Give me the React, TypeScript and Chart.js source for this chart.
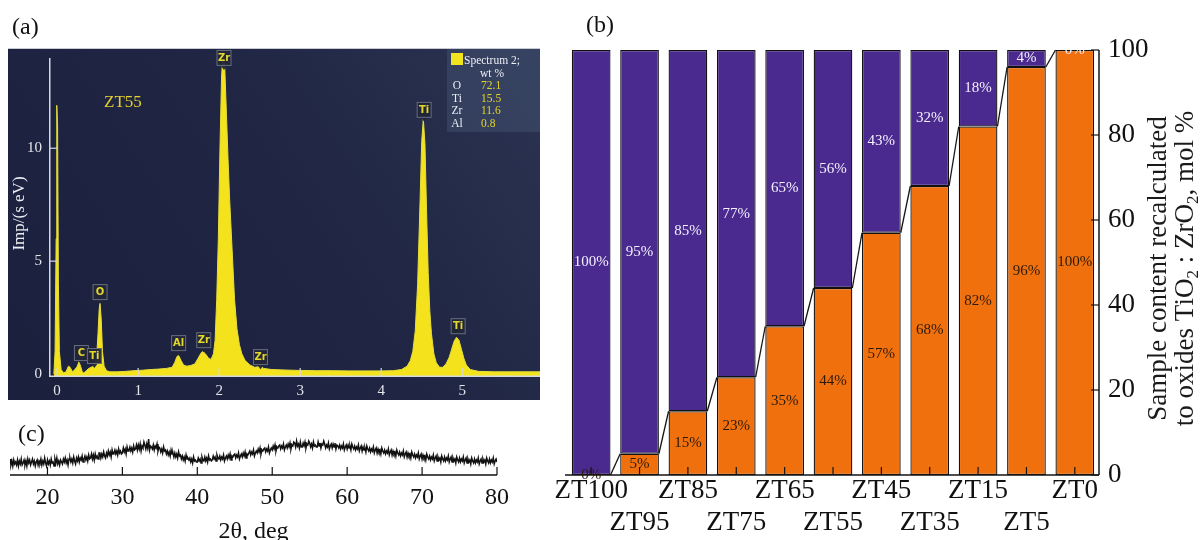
import React, { useEffect, useRef } from 'react';
import { Chart, registerables } from 'chart.js';

Chart.register(...registerables);

const SERIF = "'Liberation Serif', 'Times New Roman', serif";

// ---------------- Panel (a): EDS spectrum ----------------
const edsEnergyKeV = [
  -0.04, -0.025, -0.012, -0.004, 0.006, 0.016, 0.028, 0.05, 0.08, 0.11,
  0.14, 0.16, 0.19, 0.22, 0.25, 0.27, 0.29, 0.31, 0.33, 0.36,
  0.39, 0.42, 0.45, 0.47, 0.49, 0.505, 0.52, 0.53, 0.545, 0.56,
  0.58, 0.61, 0.65, 0.7, 0.75, 0.85, 0.95, 1.05, 1.15, 1.25,
  1.35, 1.42, 1.45, 1.48, 1.5, 1.53, 1.56, 1.6, 1.65, 1.7,
  1.74, 1.78, 1.8, 1.83, 1.87, 1.9, 1.93, 1.95, 1.97, 1.99,
  2.01, 2.03, 2.05, 2.07, 2.09, 2.11, 2.13, 2.16, 2.19, 2.22,
  2.25, 2.28, 2.32, 2.38, 2.44, 2.48, 2.51, 2.55, 2.65, 2.8,
  3.0, 3.2, 3.4, 3.6, 3.8, 4.0, 4.15, 4.25, 4.32, 4.36,
  4.39, 4.42, 4.45, 4.48, 4.5, 4.52, 4.54, 4.56, 4.58, 4.6,
  4.62, 4.65, 4.68, 4.72, 4.76, 4.8, 4.84, 4.87, 4.9, 4.93,
  4.96, 4.99, 5.02, 5.05, 5.1, 5.2, 5.4, 5.6, 5.8, 5.96,
];
const edsCounts = [
  0, 1, 6, 11.9, 11, 4, 1, 0.2, 0.05, 0.1,
  0.35, 0.3, 0.1, 0.2, 0.35, 0.55, 0.35, 0.1, 0.05, 0.15,
  0.25, 0.3, 0.35, 0.5, 0.9, 1.8, 2.9, 3.15, 2.4, 1.0,
  0.35, 0.15, 0.1, 0.1, 0.1, 0.12, 0.15, 0.17, 0.2, 0.22,
  0.25, 0.3, 0.5, 0.78, 0.82, 0.6, 0.4, 0.35, 0.38, 0.45,
  0.7, 0.95, 1.0, 0.9, 0.7, 0.65, 0.9, 1.5, 3.3, 6.0,
  10.0, 13.2, 14.3, 13.5, 11.5, 9.5, 7.7, 5.5, 3.3, 2.0,
  1.3, 0.9, 0.6, 0.4, 0.3, 0.32, 0.35, 0.25, 0.2, 0.18,
  0.16, 0.15, 0.15, 0.14, 0.14, 0.14, 0.15, 0.2, 0.35, 0.6,
  1.0, 1.9, 4.0, 7.7, 10.3, 11.3, 10.2, 7.2, 4.5, 2.8,
  1.8, 0.9, 0.5, 0.3, 0.3, 0.45, 0.75, 1.1, 1.45, 1.63,
  1.5, 1.1, 0.7, 0.4, 0.2, 0.12, 0.1, 0.1, 0.1, 0.1,
];
const edsXTicks = [0, 1, 2, 3, 4, 5];
const edsYTicks = [0, 5, 10];
const edsYAxisTop = 14.0;
const edsPeakLabels = ['C', 'Ti', 'O', 'Al', 'Zr', 'Zr', 'Zr', 'Ti', 'Ti'];
const edsPeakEnergy = [0.3, 0.46, 0.53, 1.5, 1.81, 2.06, 2.51, 4.53, 4.95];
const edsPeakValue = [0.93, 0.8, 3.63, 1.37, 1.5, 14.0, 0.75, 11.7, 2.12];
const edsSampleName = 'ZT55';
const edsLegendTitle = 'Spectrum 2;';
const edsLegendUnit = 'wt %';
const edsElements = ['O', 'Ti', 'Zr', 'Al'];
const edsWtPct = ['72.1', '15.5', '11.6', '0.8'];

// ---------------- Panel (b): stacked composition bars ----------------
const samples = ['ZT100', 'ZT95', 'ZT85', 'ZT75', 'ZT65', 'ZT55', 'ZT45', 'ZT35', 'ZT15', 'ZT5', 'ZT0'];
const tio2MolPct = [0, 5, 15, 23, 35, 44, 57, 68, 82, 96, 100];
const zro2MolPct = [100, 95, 85, 77, 65, 56, 43, 32, 18, 4, 0];
const barYTicks = [0, 20, 40, 60, 80, 100];
const barTitleLine1: [string, boolean][] = [['Sample content recalculated', false]];
const barTitleLine2: [string, boolean][] = [
  ['to oxides TiO', false], ['2', true], [' : ZrO', false], ['2', true], [', mol %', false],
];

// ---------------- Panel (c): XRD pattern ----------------
const xrdStartDeg = 15;
const xrdStepDeg = 0.125;
const xrdIntensity = [
  16, 10, 14, 9, 15, 11, 13, 10, 15, 9, 14, 11, 16, 10, 12, 15,
  10, 14, 9, 16, 12, 15, 10, 13, 16, 11, 14, 9, 13, 15, 10, 14,
  12, 16, 10, 14, 11, 17, 12, 9, 15, 11, 14, 10, 16, 12, 13, 9,
  16, 12, 17, 11, 14, 10, 15, 13, 11, 16, 13, 17, 12, 15, 10, 16,
  17, 13, 16, 12, 18, 14, 11, 17, 14, 18, 13, 17, 15, 19, 13, 16,
  19, 15, 18, 14, 20, 16, 17, 21, 16, 20, 15, 21, 17, 19, 16, 22,
  22, 17, 21, 18, 23, 19, 17, 22, 19, 24, 20, 23, 18, 25, 21, 22,
  25, 21, 24, 20, 26, 22, 24, 21, 22, 27, 23, 26, 21, 28, 24, 25,
  28, 24, 27, 23, 29, 25, 26, 30, 25, 30, 26, 31, 24, 29, 27, 33,
  30, 26, 31, 27, 36, 25, 29, 28, 26, 30, 25, 29, 27, 31, 24, 28,
  27, 23, 26, 22, 28, 24, 25, 21, 24, 20, 23, 19, 25, 21, 22, 18,
  22, 18, 21, 17, 23, 19, 20, 16, 19, 15, 18, 14, 20, 16, 17, 15,
  17, 13, 16, 12, 18, 14, 15, 13, 13, 17, 14, 16, 12, 18, 15, 14,
  18, 14, 17, 13, 19, 15, 16, 14, 15, 19, 16, 18, 14, 20, 17, 16,
  19, 15, 18, 16, 20, 14, 17, 19, 16, 20, 17, 21, 15, 19, 18, 20,
  21, 17, 20, 18, 22, 16, 19, 21, 18, 22, 19, 23, 17, 21, 20, 22,
  24, 20, 23, 21, 25, 19, 22, 24, 22, 26, 23, 27, 21, 25, 24, 26,
  27, 23, 26, 24, 28, 22, 25, 27, 25, 29, 26, 30, 24, 28, 27, 29,
  30, 26, 29, 27, 31, 25, 28, 30, 27, 31, 28, 32, 26, 30, 29, 33,
  32, 28, 34, 29, 31, 27, 33, 28, 28, 32, 29, 33, 27, 31, 30, 34,
  32, 28, 31, 27, 33, 29, 30, 28, 28, 33, 29, 32, 27, 31, 30, 34,
  31, 27, 30, 28, 32, 26, 29, 31, 27, 31, 28, 32, 26, 30, 29, 27,
  30, 26, 29, 27, 31, 25, 28, 30, 26, 30, 27, 29, 25, 31, 28, 26,
  29, 25, 28, 26, 30, 24, 27, 29, 24, 28, 25, 27, 23, 29, 26, 24,
  27, 23, 26, 24, 28, 22, 25, 27, 22, 26, 23, 25, 21, 27, 24, 22,
  25, 21, 24, 22, 26, 20, 23, 25, 20, 24, 21, 23, 19, 25, 22, 20,
  23, 19, 22, 20, 24, 18, 21, 23, 18, 22, 19, 21, 17, 23, 20, 18,
  21, 17, 20, 18, 22, 16, 19, 21, 16, 20, 17, 19, 15, 21, 18, 16,
  19, 15, 18, 16, 20, 14, 17, 19, 14, 18, 15, 17, 13, 19, 16, 14,
  18, 14, 17, 15, 19, 13, 16, 18, 13, 17, 14, 16, 12, 18, 15, 13,
  17, 13, 16, 14, 18, 12, 15, 17, 12, 16, 13, 15, 11, 17, 14, 12,
  16, 12, 15, 13, 17, 11, 14, 16, 12, 16, 13, 15, 11, 17, 14, 12,
  16, 12, 15, 13, 17, 11, 14, 16, 13,
];
const xrdTicks = [20, 30, 40, 50, 60, 70, 80];
const xrdAxisTitle = '2\u03b8, deg';

// ---------------- helpers ----------------
function ChartCanvas(props: { left: number; top: number; width: number; height: number; build: () => any }) {
  const ref = useRef<HTMLCanvasElement | null>(null);
  useEffect(() => {
    if (!ref.current) return;
    const chart = new Chart(ref.current, props.build());
    return () => chart.destroy();
  }, []);
  return (
    <canvas
      ref={ref}
      width={props.width}
      height={props.height}
      style={{ position: 'absolute', left: props.left, top: props.top, width: props.width, height: props.height }}
    />
  );
}

// The EDS canvas starts 20px above the dark panel so the axis label padding never pushes the plot down.
const EDS_BG_TOP = 20;

function buildEds() {
  const pts = edsEnergyKeV.map((e, i) => ({ x: e, y: edsCounts[i] }));
  const deco = {
    id: 'edsDeco',
    beforeDraw(chart: any) {
      const { ctx, width, height } = chart;
      ctx.save();
      const g = ctx.createLinearGradient(0, height, width, EDS_BG_TOP);
      g.addColorStop(0, '#1b203d');
      g.addColorStop(0.55, '#1f2543');
      g.addColorStop(1, '#2b3452');
      ctx.fillStyle = g;
      ctx.fillRect(0, EDS_BG_TOP, width, height - EDS_BG_TOP);
      ctx.strokeStyle = '#c9cbd2';
      ctx.lineWidth = 1;
      ctx.beginPath();
      ctx.moveTo(0, EDS_BG_TOP + 0.5);
      ctx.lineTo(width, EDS_BG_TOP + 0.5);
      ctx.stroke();
      ctx.restore();
    },
    afterDatasetsDraw(chart: any) {
      const { ctx, chartArea, scales } = chart;
      const { left, right, bottom } = chartArea;
      const x = scales.x, y = scales.y;
      const T = EDS_BG_TOP;
      ctx.save();
      ctx.strokeStyle = '#d6d8e0';
      ctx.lineWidth = 1.5;
      ctx.beginPath();
      ctx.moveTo(left + 0.75, y.getPixelForValue(edsYAxisTop));
      ctx.lineTo(left + 0.75, bottom);
      ctx.stroke();
      ctx.beginPath();
      ctx.moveTo(left, bottom - 0.75);
      ctx.lineTo(right, bottom - 0.75);
      ctx.stroke();
      ctx.lineWidth = 1.2;
      edsXTicks.forEach((v) => {
        const px = x.getPixelForValue(v);
        ctx.beginPath();
        ctx.moveTo(px, bottom);
        ctx.lineTo(px, bottom - 9);
        ctx.stroke();
      });
      edsYTicks.forEach((v) => {
        if (v === 0) return;
        const py = y.getPixelForValue(v);
        ctx.beginPath();
        ctx.moveTo(left, py);
        ctx.lineTo(left + 8, py);
        ctx.stroke();
      });
      // peak labels
      edsPeakLabels.forEach((t, i) => {
        const cx = x.getPixelForValue(edsPeakEnergy[i]);
        const cy = y.getPixelForValue(edsPeakValue[i]);
        const w = 15, h = 16;
        ctx.fillStyle = 'rgba(34,38,56,0.96)';
        ctx.strokeStyle = 'rgba(110,118,138,0.9)';
        ctx.lineWidth = 1;
        ctx.beginPath();
        ctx.moveTo(cx - 3, cy + h / 2);
        ctx.lineTo(cx, cy + h / 2 + 4);
        ctx.lineTo(cx + 3, cy + h / 2);
        ctx.closePath();
        ctx.fill();
        ctx.fillRect(cx - w / 2, cy - h / 2, w, h);
        ctx.strokeRect(cx - w / 2 + 0.5, cy - h / 2 + 0.5, w - 1, h - 1);
        ctx.fillStyle = '#e4d82c';
        ctx.font = "bold 10px 'DejaVu Sans', sans-serif";
        ctx.textAlign = 'center';
        ctx.textBaseline = 'middle';
        ctx.fillText(t, cx, cy + 0.5);
      });
      // sample name
      ctx.fillStyle = '#e2d12c';
      ctx.font = `17px ${SERIF}`;
      ctx.textAlign = 'left';
      ctx.textBaseline = 'middle';
      ctx.fillText(edsSampleName, 96, T + 55);
      // legend box
      ctx.fillStyle = 'rgba(72,88,120,0.42)';
      ctx.fillRect(439, T + 1, 93, 83);
      ctx.fillStyle = '#f2e41e';
      ctx.fillRect(443, T + 5, 12, 12);
      ctx.font = `11.5px ${SERIF}`;
      ctx.fillStyle = '#eceef4';
      ctx.textAlign = 'left';
      ctx.fillText(edsLegendTitle, 456, T + 13);
      ctx.fillText(edsLegendUnit, 472, T + 25.5);
      edsElements.forEach((el, i) => {
        const ry = T + 38 + i * 12.7;
        ctx.fillStyle = '#eceef4';
        ctx.textAlign = 'center';
        ctx.fillText(el, 449, ry);
        ctx.fillStyle = '#e2d42e';
        ctx.textAlign = 'left';
        ctx.fillText(edsWtPct[i], 473, ry);
      });
      ctx.restore();
    },
  };
  return {
    type: 'line',
    data: {
      datasets: [
        {
          data: pts,
          fill: 'start',
          backgroundColor: '#f3e21c',
          borderColor: '#e6df3a',
          borderWidth: 1,
          pointRadius: 0,
          tension: 0,
        },
      ],
    },
    options: {
      animation: false,
      responsive: false,
      events: [],
      layout: { padding: { top: EDS_BG_TOP + 2, left: 0, right: 0, bottom: 0 } },
      plugins: { legend: { display: false }, tooltip: { enabled: false } },
      scales: {
        x: {
          type: 'linear',
          min: -0.1,
          max: 5.96,
          grid: { display: false, drawTicks: false },
          border: { display: false },
          afterBuildTicks: (s: any) => { s.ticks = edsXTicks.map((v) => ({ value: v })); },
          afterFit: (s: any) => { s.height = 23; },
          ticks: { color: '#e4e5ec', font: { family: SERIF, size: 15 }, padding: 5, maxRotation: 0, autoSkip: false },
        },
        y: {
          type: 'linear',
          min: -0.13,
          max: 14.35,
          grid: { display: false, drawTicks: false },
          border: { display: false },
          afterBuildTicks: (s: any) => { s.ticks = edsYTicks.map((v) => ({ value: v })); },
          afterFit: (s: any) => { s.width = 41; },
          ticks: { color: '#e4e5ec', font: { family: SERIF, size: 15 }, padding: 7 },
          title: { display: true, text: 'Imp/(s eV)', color: '#eceef2', font: { family: SERIF, size: 17 }, padding: { top: 1, bottom: 0 } },
        },
      },
    },
    plugins: [deco],
  };
}

function buildBars() {
  const deco = {
    id: 'barsDeco',
    afterDatasetsDraw(chart: any) {
      const { ctx, chartArea, scales } = chart;
      const { left, right, top, bottom } = chartArea;
      const y = scales.y;
      const mT = chart.getDatasetMeta(0);
      const mZ = chart.getDatasetMeta(1);
      ctx.save();
      // series lines joining orange tops
      ctx.strokeStyle = '#151515';
      ctx.lineWidth = 1.3;
      for (let i = 0; i < mT.data.length - 1; i++) {
        const a = mT.data[i], b = mT.data[i + 1];
        ctx.beginPath();
        ctx.moveTo(a.x + a.width / 2, a.y);
        ctx.lineTo(b.x - b.width / 2, b.y);
        ctx.stroke();
      }
      // axes
      ctx.lineWidth = 1.5;
      ctx.beginPath();
      ctx.moveTo(left - 2, bottom);
      ctx.lineTo(right, bottom);
      ctx.moveTo(right, top);
      ctx.lineTo(right, bottom);
      ctx.stroke();
      ctx.lineWidth = 1.2;
      barYTicks.forEach((v) => {
        const py = y.getPixelForValue(v);
        ctx.beginPath();
        ctx.moveTo(right - 8, py);
        ctx.lineTo(right, py);
        ctx.stroke();
      });
      mT.data.forEach((el: any) => {
        ctx.beginPath();
        ctx.moveTo(el.x, bottom);
        ctx.lineTo(el.x, bottom - 8);
        ctx.stroke();
      });
      // value labels
      ctx.font = `15px ${SERIF}`;
      ctx.textAlign = 'center';
      ctx.textBaseline = 'middle';
      mT.data.forEach((el: any, i: number) => {
        ctx.fillStyle = '#2a1a0c';
        ctx.fillText(`${tio2MolPct[i]}%`, el.x, (el.y + el.base) / 2);
      });
      ctx.save();
      ctx.beginPath();
      ctx.rect(left - 30, top, right - left + 60, bottom - top + 30);
      ctx.clip();
      mZ.data.forEach((el: any, i: number) => {
        ctx.fillStyle = '#f4f0ff';
        ctx.fillText(`${zro2MolPct[i]}%`, el.x, (el.y + el.base) / 2);
      });
      ctx.restore();
      ctx.restore();
    },
    afterDraw(chart: any) {
      const { ctx, chartArea } = chart;
      const size = 27;
      const cy = (chartArea.top + chartArea.bottom) / 2 + 6;
      const drawRich = (parts: [string, boolean][], cx: number) => {
        const subSize = Math.round(size * 0.62);
        let total = 0;
        const widths = parts.map(([t, sub]) => {
          ctx.font = `${sub ? subSize : size}px ${SERIF}`;
          const w = ctx.measureText(t).width;
          total += w;
          return w;
        });
        ctx.save();
        ctx.translate(cx, cy);
        ctx.rotate(-Math.PI / 2);
        ctx.fillStyle = '#1a1a1a';
        ctx.textAlign = 'left';
        ctx.textBaseline = 'middle';
        let pos = -total / 2;
        parts.forEach(([t, sub], i) => {
          ctx.font = `${sub ? subSize : size}px ${SERIF}`;
          ctx.fillText(t, pos, sub ? size * 0.28 : 0);
          pos += widths[i];
        });
        ctx.restore();
      };
      drawRich(barTitleLine1, chartArea.right + 60);
      drawRich(barTitleLine2, chartArea.right + 87);
    },
  };
  return {
    type: 'bar',
    data: {
      labels: samples,
      datasets: [
        {
          label: 'TiO2',
          data: tio2MolPct,
          backgroundColor: '#f0700e',
          borderColor: '#111',
          borderWidth: 1.3,
          borderSkipped: false,
        },
        {
          label: 'ZrO2',
          data: zro2MolPct,
          backgroundColor: '#4a2a8e',
          borderColor: '#111',
          borderWidth: 1.3,
          borderSkipped: false,
        },
      ],
    },
    options: {
      animation: false,
      responsive: false,
      events: [],
      layout: { padding: { top: 26, left: 22, right: 0, bottom: 0 } },
      plugins: { legend: { display: false }, tooltip: { enabled: false } },
      datasets: { bar: { categoryPercentage: 1, barPercentage: 0.8 } },
      scales: {
        x: {
          stacked: true,
          grid: { display: false, drawTicks: false },
          border: { display: false },
          afterFit: (s: any) => { s.height = 65; },
          ticks: {
            autoSkip: false,
            maxRotation: 0,
            padding: 0,
            color: '#111',
            font: { family: SERIF, size: 27, lineHeight: 1.19 },
            callback: (_v: any, i: number) => (i % 2 === 0 ? samples[i] : ['', samples[i]]),
          },
        },
        y: {
          stacked: true,
          position: 'right',
          min: 0,
          max: 100,
          grid: { display: false, drawTicks: false },
          border: { display: false },
          afterBuildTicks: (s: any) => { s.ticks = barYTicks.map((v) => ({ value: v })); },
          afterFit: (s: any) => { s.width = 101; },
          ticks: { color: '#111', font: { family: SERIF, size: 27 }, padding: 9 },
        },
      },
    },
    plugins: [deco],
  };
}

function buildXrd() {
  const pts = xrdIntensity.map((v, i) => ({ x: xrdStartDeg + i * xrdStepDeg, y: v }));
  const deco = {
    id: 'xrdDeco',
    afterDatasetsDraw(chart: any) {
      const { ctx, chartArea, scales } = chart;
      const { left, right, bottom } = chartArea;
      ctx.save();
      ctx.strokeStyle = '#111';
      ctx.lineWidth = 1.5;
      ctx.beginPath();
      ctx.moveTo(left, bottom);
      ctx.lineTo(right, bottom);
      ctx.stroke();
      ctx.lineWidth = 1.2;
      xrdTicks.forEach((v) => {
        const px = scales.x.getPixelForValue(v);
        ctx.beginPath();
        ctx.moveTo(px, bottom);
        ctx.lineTo(px, bottom - 8);
        ctx.stroke();
      });
      ctx.restore();
    },
  };
  return {
    type: 'line',
    data: {
      datasets: [
        { data: pts, borderColor: '#111', borderWidth: 1.5, pointRadius: 0, tension: 0, fill: false },
      ],
    },
    options: {
      animation: false,
      responsive: false,
      events: [],
      layout: { padding: { top: 10, left: 10, right: 43, bottom: 0 } },
      plugins: { legend: { display: false }, tooltip: { enabled: false } },
      scales: {
        x: {
          type: 'linear',
          min: 15,
          max: 80,
          grid: { display: false, drawTicks: false },
          border: { display: false },
          afterBuildTicks: (s: any) => { s.ticks = xrdTicks.map((v) => ({ value: v })); },
          afterFit: (s: any) => { s.height = 75; },
          ticks: { color: '#111', font: { family: SERIF, size: 24 }, padding: 8, maxRotation: 0, autoSkip: false },
          title: { display: true, text: xrdAxisTitle, color: '#111', font: { family: SERIF, size: 24 }, padding: { top: 0, bottom: 4 } },
        },
        y: { display: false, min: 0, max: 55 },
      },
    },
    plugins: [deco],
  };
}

const panelLabelStyle: React.CSSProperties = {
  position: 'absolute',
  fontFamily: SERIF,
  fontSize: 24,
  lineHeight: '26px',
  color: '#111',
};

export default function App() {
  return (
    <div style={{ position: 'fixed', left: 0, top: 0, width: 1200, height: 540, background: '#fff', overflow: 'hidden' }}>
      <ChartCanvas left={8} top={48 - EDS_BG_TOP} width={532} height={352 + EDS_BG_TOP} build={buildEds} />
      <ChartCanvas left={545} top={24} width={655} height={516} build={buildBars} />
      <ChartCanvas left={0} top={410} width={540} height={140} build={buildXrd} />
      <div style={{ ...panelLabelStyle, left: 12, top: 13 }}>(a)</div>
      <div style={{ ...panelLabelStyle, left: 586, top: 11 }}>(b)</div>
      <div style={{ ...panelLabelStyle, left: 18, top: 420 }}>(c)</div>
    </div>
  );
}
